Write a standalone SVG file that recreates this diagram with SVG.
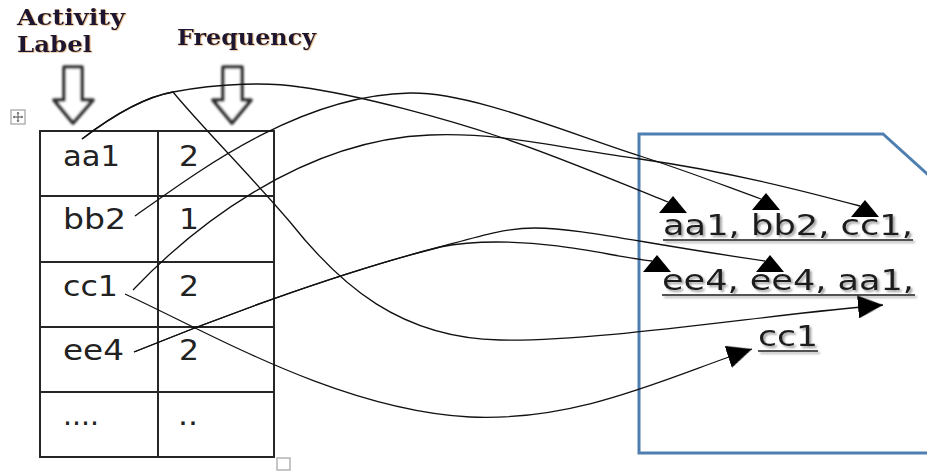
<svg xmlns="http://www.w3.org/2000/svg" width="927" height="471" viewBox="0 0 927 471">
  <defs>
    <style>
      .grid{fill:none;stroke:#262626;stroke-width:2}
      .cell{font-family:"DejaVu Sans",Verdana,sans-serif;font-size:28px;fill:#222}
      .head{font-family:"DejaVu Serif","Liberation Serif",serif;font-weight:bold;font-size:23px;fill:#1b1930}
      .seq{font-family:"DejaVu Sans",Verdana,sans-serif;font-size:28px;fill:#1a1a1a}
      .uline{stroke:#1a1a1a;stroke-width:1.6}
      .link{fill:none;stroke:#111;stroke-width:1.3}
      .hollow{fill:#fff;stroke:#333;stroke-width:3.6;stroke-linejoin:round}
      .handle{fill:#fff;stroke:#a8a8a8;stroke-width:1.3}
      .frame{fill:#fff;stroke:#4f7fb0;stroke-width:3}
      .head-tri{fill:#000}
    </style>
    <filter id="soft" x="-20%" y="-20%" width="140%" height="140%">
      <feGaussianBlur stdDeviation="1"/>
    </filter>
    <filter id="tip-blur" x="-30%" y="-30%" width="160%" height="160%">
      <feGaussianBlur stdDeviation="0.5"/>
    </filter>
    <filter id="shade" x="-5%" y="-20%" width="110%" height="150%">
      <feDropShadow dx="2" dy="2" stdDeviation="1.2" flood-color="#777" flood-opacity="0.7"/>
    </filter>
    <filter id="warm" x="-5%" y="-20%" width="110%" height="150%">
      <feDropShadow dx="0.8" dy="0.6" stdDeviation="0.4" flood-color="#d08a3a" flood-opacity="0.7"/>
    </filter>
    <!-- upright arrowhead, fixed orientation, anchored on its left flank -->
    <marker id="tri-up" markerUnits="userSpaceOnUse" markerWidth="28" markerHeight="17" refX="9" refY="6" orient="0">
      <path class="head-tri" d="M14,0 L28,17 L0,17 Z" filter="url(#tip-blur)"/>
    </marker>
    <!-- arrowhead following the connector direction -->
    <marker id="tri-fwd" markerUnits="userSpaceOnUse" markerWidth="25" markerHeight="23" refX="25" refY="11.5" orient="auto">
      <path class="head-tri" d="M0,0 L25,11.5 L0,23 Z" filter="url(#tip-blur)"/>
    </marker>
  </defs>

  <rect width="927" height="471" fill="#fff"/>

  <!-- column headings -->
  <g id="heading-activity">
    <g filter="url(#warm)">
      <text class="head" x="17" y="25" textLength="108" lengthAdjust="spacingAndGlyphs">Activity</text>
      <text class="head" x="17" y="52" textLength="75" lengthAdjust="spacingAndGlyphs">Label</text>
    </g>
    <path class="hollow" filter="url(#soft)" d="M64,67 L82,67 L82,100 L93,100 L73,123 L54,100 L64,100 Z"/>
  </g>
  <g id="heading-frequency">
    <text class="head" x="177" y="45" textLength="139" lengthAdjust="spacingAndGlyphs" filter="url(#warm)">Frequency</text>
    <path class="hollow" filter="url(#soft)" d="M223,67 L242,67 L242,100 L251,100 L232,123 L213,100 L223,100 Z"/>
  </g>

  <!-- table handles -->
  <g id="move-handle">
    <rect class="handle" x="11" y="110" width="14" height="14"/>
    <path d="M18,112.5 V121.5 M13.5,117 H22.5" stroke="#555" stroke-width="1"/>
    <path d="M18,111.8 L16.5,113.6 H19.5 Z M18,122.2 L16.5,120.4 H19.5 Z M12.8,117 L14.6,115.5 V118.5 Z M23.2,117 L21.4,115.5 V118.5 Z" fill="#555"/>
  </g>
  <g id="resize-handle">
    <rect class="handle" x="277" y="458" width="13" height="12"/>
  </g>

  <!-- frequency table -->
  <g id="table">
    <rect class="grid" x="40" y="131" width="234" height="326"/>
    <path class="grid" d="M158,131 V457 M40,196 H274 M40,262 H274 M40,327 H274 M40,392 H274"/>
  </g>
  <g id="row-aa1">
    <text class="cell" x="63" y="166" textLength="57" lengthAdjust="spacingAndGlyphs">aa1</text>
    <text class="cell" x="179" y="166" textLength="20" lengthAdjust="spacingAndGlyphs">2</text>
  </g>
  <g id="row-bb2">
    <text class="cell" x="63" y="229" textLength="63" lengthAdjust="spacingAndGlyphs">bb2</text>
    <text class="cell" x="179" y="229" textLength="20" lengthAdjust="spacingAndGlyphs">1</text>
  </g>
  <g id="row-cc1">
    <text class="cell" x="63" y="296" textLength="55" lengthAdjust="spacingAndGlyphs">cc1</text>
    <text class="cell" x="179" y="296" textLength="20" lengthAdjust="spacingAndGlyphs">2</text>
  </g>
  <g id="row-ee4">
    <text class="cell" x="63" y="360" textLength="61" lengthAdjust="spacingAndGlyphs">ee4</text>
    <text class="cell" x="179" y="360" textLength="20" lengthAdjust="spacingAndGlyphs">2</text>
  </g>
  <g id="row-more">
    <text class="cell" x="63" y="425" textLength="36" lengthAdjust="spacingAndGlyphs">....</text>
    <text class="cell" x="178" y="425" textLength="20" lengthAdjust="spacingAndGlyphs">..</text>
  </g>

  <!-- event sequence page -->
  <g id="sequence">
    <polygon class="frame" points="639,134 883,134 945,190 945,453 639,453"/>
    <g filter="url(#shade)">
      <text class="seq" x="663" y="235" textLength="250" lengthAdjust="spacingAndGlyphs">aa1, bb2, cc1,</text>
      <line class="uline" x1="663" y1="240" x2="913" y2="240"/>
      <text class="seq" x="662" y="290" textLength="252" lengthAdjust="spacingAndGlyphs">ee4, ee4, aa1,</text>
      <line class="uline" x1="662" y1="295" x2="915" y2="295"/>
      <text class="seq" x="758" y="346" textLength="60" lengthAdjust="spacingAndGlyphs">cc1</text>
      <line class="uline" x1="758" y1="351" x2="818" y2="351"/>
    </g>
  </g>

  <!-- connectors from each label to its occurrences -->
  <g id="connectors">
    <path id="aa1-first" class="link" marker-end="url(#tri-up)" d="M82,139 C120,110 150,96 173,92 C220,83 270,82 300,87 C360,95 450,120 500,137 C560,157 625,185 668,202"/>
    <path id="aa1-second" class="link" marker-end="url(#tri-fwd)" d="M82,139 C120,110 150,96 173,92 C200,125 250,175 290,222 C340,285 400,338 500,340 C600,342 770,314 883,305"/>
    <path id="bb2-first" class="link" marker-end="url(#tri-up)" d="M135,216 C200,170 300,95 410,93 C470,92 560,130 640,156 C690,172 725,186 761,199"/>
    <path id="cc1-first" class="link" marker-end="url(#tri-up)" d="M133,290 C190,230 300,140 430,135 C500,132 560,148 640,159 C730,172 800,190 860,206"/>
    <path id="cc1-second" class="link" marker-end="url(#tri-fwd)" d="M125,294 C210,333 340,410 470,417 C580,422 670,376 752,349"/>
    <path id="ee4-first" class="link" marker-end="url(#tri-up)" d="M134,352 C200,325 330,275 440,247 C460,243 475,242 497,242 C560,242 610,256 652,261"/>
    <path id="ee4-second" class="link" marker-end="url(#tri-up)" d="M134,352 C200,325 330,275 440,247 C480,236 505,228 535,228 C580,228 640,243 765,261"/>
  </g>
</svg>
